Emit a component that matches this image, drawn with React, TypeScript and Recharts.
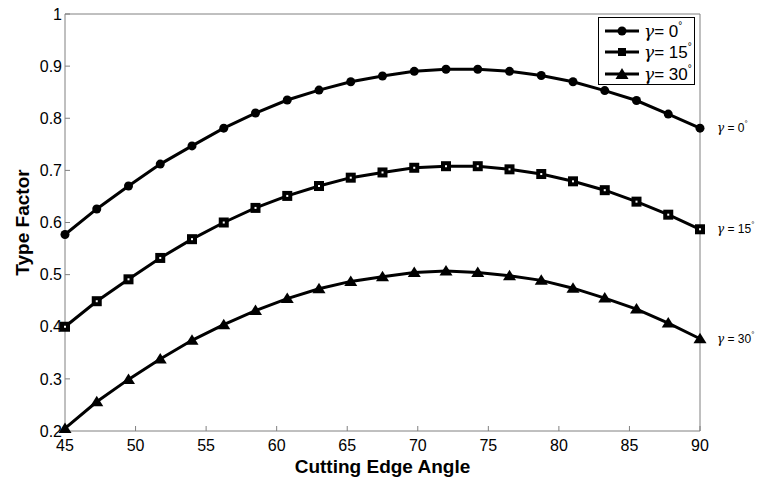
import { LabelList, Legend, Line, LineChart, XAxis, YAxis } from 'recharts';

const angles = [45, 47.25, 49.5, 51.75, 54, 56.25, 58.5, 60.75, 63, 65.25, 67.5, 69.75, 72, 74.25, 76.5, 78.75, 81, 83.25, 85.5, 87.75, 90];
const gamma0 = [0.577, 0.626, 0.67, 0.712, 0.747, 0.781, 0.81, 0.835, 0.854, 0.87, 0.881, 0.89, 0.894, 0.894, 0.89, 0.882, 0.87, 0.853, 0.834, 0.808, 0.781];
const gamma15 = [0.4, 0.449, 0.491, 0.532, 0.568, 0.6, 0.628, 0.651, 0.67, 0.686, 0.696, 0.705, 0.708, 0.708, 0.702, 0.693, 0.679, 0.662, 0.64, 0.615, 0.587];
const gamma30 = [0.205, 0.256, 0.299, 0.338, 0.374, 0.404, 0.431, 0.454, 0.473, 0.487, 0.496, 0.504, 0.507, 0.504, 0.498, 0.489, 0.474, 0.455, 0.434, 0.407, 0.377];
const xTicks = [45, 50, 55, 60, 65, 70, 75, 80, 85, 90];
const yTicks = [0.2, 0.3, 0.4, 0.5, 0.6, 0.7, 0.8, 0.9, 1];
const gammaDegrees = ['0', '15', '30'];

const chartData = angles.map((angle, i) => ({
  angle,
  g0: gamma0[i],
  g15: gamma15[i],
  g30: gamma30[i],
}));

const FONT = '"Liberation Sans", Arial, sans-serif';
const GREEK = '"DejaVu Serif", serif';
const AXIS = '#808080';

const circleDot = (props: any) => (
  <circle key={`c-${props.index}`} cx={props.cx} cy={props.cy} r={4.5} fill="#000" />
);

const squareDot = (props: any) => (
  <rect
    key={`s-${props.index}`}
    x={props.cx - 3}
    y={props.cy - 3}
    width={6}
    height={6}
    fill="#fff"
    stroke="#000"
    strokeWidth={4}
  />
);

const triangleDot = (props: any) => (
  <polygon
    key={`t-${props.index}`}
    points={`${props.cx},${props.cy - 6} ${props.cx - 6.5},${props.cy + 4.5} ${props.cx + 6.5},${props.cy + 4.5}`}
    fill="#000"
  />
);

const markerShapes = ['circle', 'square', 'triangle'];

function Marker({ shape }: { shape: string }) {
  if (shape === 'circle') return <circle cx={17} cy={7} r={4.5} fill="#000" />;
  if (shape === 'square') return <rect x={13} y={3} width={8} height={8} fill="#000" />;
  return <polygon points="17,1 10.5,12 23.5,12" fill="#000" />;
}

function LegendBox() {
  return (
    <div
      style={{
        width: 97,
        height: 68,
        border: '1px solid #000',
        background: '#fff',
        fontFamily: FONT,
        fontSize: 17,
        color: '#000',
        paddingTop: 2,
        boxSizing: 'border-box',
      }}
    >
      {gammaDegrees.map((deg, i) => (
        <div key={deg} style={{ display: 'flex', alignItems: 'center', height: 21.5 }}>
          <svg width={34} height={14} style={{ marginLeft: 6, marginRight: 5 }}>
            <line x1={0} y1={7} x2={34} y2={7} stroke="#000" strokeWidth={3} />
            <Marker shape={markerShapes[i]} />
          </svg>
          <span>
            <span style={{ fontFamily: GREEK, fontStyle: 'italic' }}>γ</span>= {deg}
            <span style={{ fontSize: 10, verticalAlign: 8 }}>°</span>
          </span>
        </div>
      ))}
    </div>
  );
}

const endLabel = (deg: string) => (props: any) => {
  if (props.index !== angles.length - 1) return null;
  return (
    <text
      key={`end-${deg}`}
      x={props.x + 17}
      y={props.y + 4}
      fontFamily={FONT}
      fontSize={12}
      fill="#000"
    >
      <tspan fontFamily={GREEK} fontStyle="italic">γ</tspan>
      <tspan> = {deg}</tspan>
      <tspan fontSize={8} dy={-6}>°</tspan>
    </text>
  );
};

export default function App() {
  return (
    <div style={{ position: 'absolute', left: 0, top: 0, background: '#fff' }}>
      <LineChart
        width={760}
        height={477}
        data={chartData}
        margin={{ top: 13, right: 59, bottom: 16, left: 5 }}
      >
        <XAxis
          dataKey="angle"
          type="number"
          domain={[45, 90]}
          ticks={xTicks}
          interval={0}
          height={30}
          tickSize={-5}
          tickMargin={14}
          stroke={AXIS}
          tick={{ fill: '#000', fontSize: 16, fontFamily: FONT }}
          label={{
            value: 'Cutting Edge Angle',
            position: 'insideBottom',
            offset: -12,
            style: { fontFamily: FONT, fontSize: 19, fontWeight: 'bold', fill: '#000' },
          }}
        />
        <XAxis
          xAxisId="top"
          orientation="top"
          dataKey="angle"
          type="number"
          domain={[45, 90]}
          ticks={xTicks}
          interval={0}
          height={1}
          tickSize={-5}
          tick={false}
          stroke={AXIS}
        />
        <YAxis
          type="number"
          domain={[0.2, 1]}
          ticks={yTicks}
          interval={0}
          width={60}
          tickSize={-5}
          tickMargin={8}
          stroke={AXIS}
          tick={{ fill: '#000', fontSize: 16, fontFamily: FONT }}
          label={{
            value: 'Type Factor',
            angle: -90,
            position: 'insideLeft',
            offset: 17,
            style: { textAnchor: 'middle', fontFamily: FONT, fontSize: 19, fontWeight: 'bold', fill: '#000' },
          }}
        />
        <YAxis
          yAxisId="right"
          orientation="right"
          type="number"
          domain={[0.2, 1]}
          ticks={yTicks}
          interval={0}
          width={1}
          tickSize={-5}
          tick={false}
          stroke={AXIS}
        />
        <Legend
          layout="vertical"
          align="center"
          verticalAlign="middle"
          content={() => <LegendBox />}
          wrapperStyle={{ top: 17, left: 598, width: 99, height: 70 }}
        />
        <Line dataKey="g0" stroke="#000" strokeWidth={3} dot={circleDot} isAnimationActive={false}>
          <LabelList dataKey="g0" content={endLabel(gammaDegrees[0])} />
        </Line>
        <Line dataKey="g15" stroke="#000" strokeWidth={3} dot={squareDot} isAnimationActive={false}>
          <LabelList dataKey="g15" content={endLabel(gammaDegrees[1])} />
        </Line>
        <Line dataKey="g30" stroke="#000" strokeWidth={3} dot={triangleDot} isAnimationActive={false}>
          <LabelList dataKey="g30" content={endLabel(gammaDegrees[2])} />
        </Line>
      </LineChart>
    </div>
  );
}
